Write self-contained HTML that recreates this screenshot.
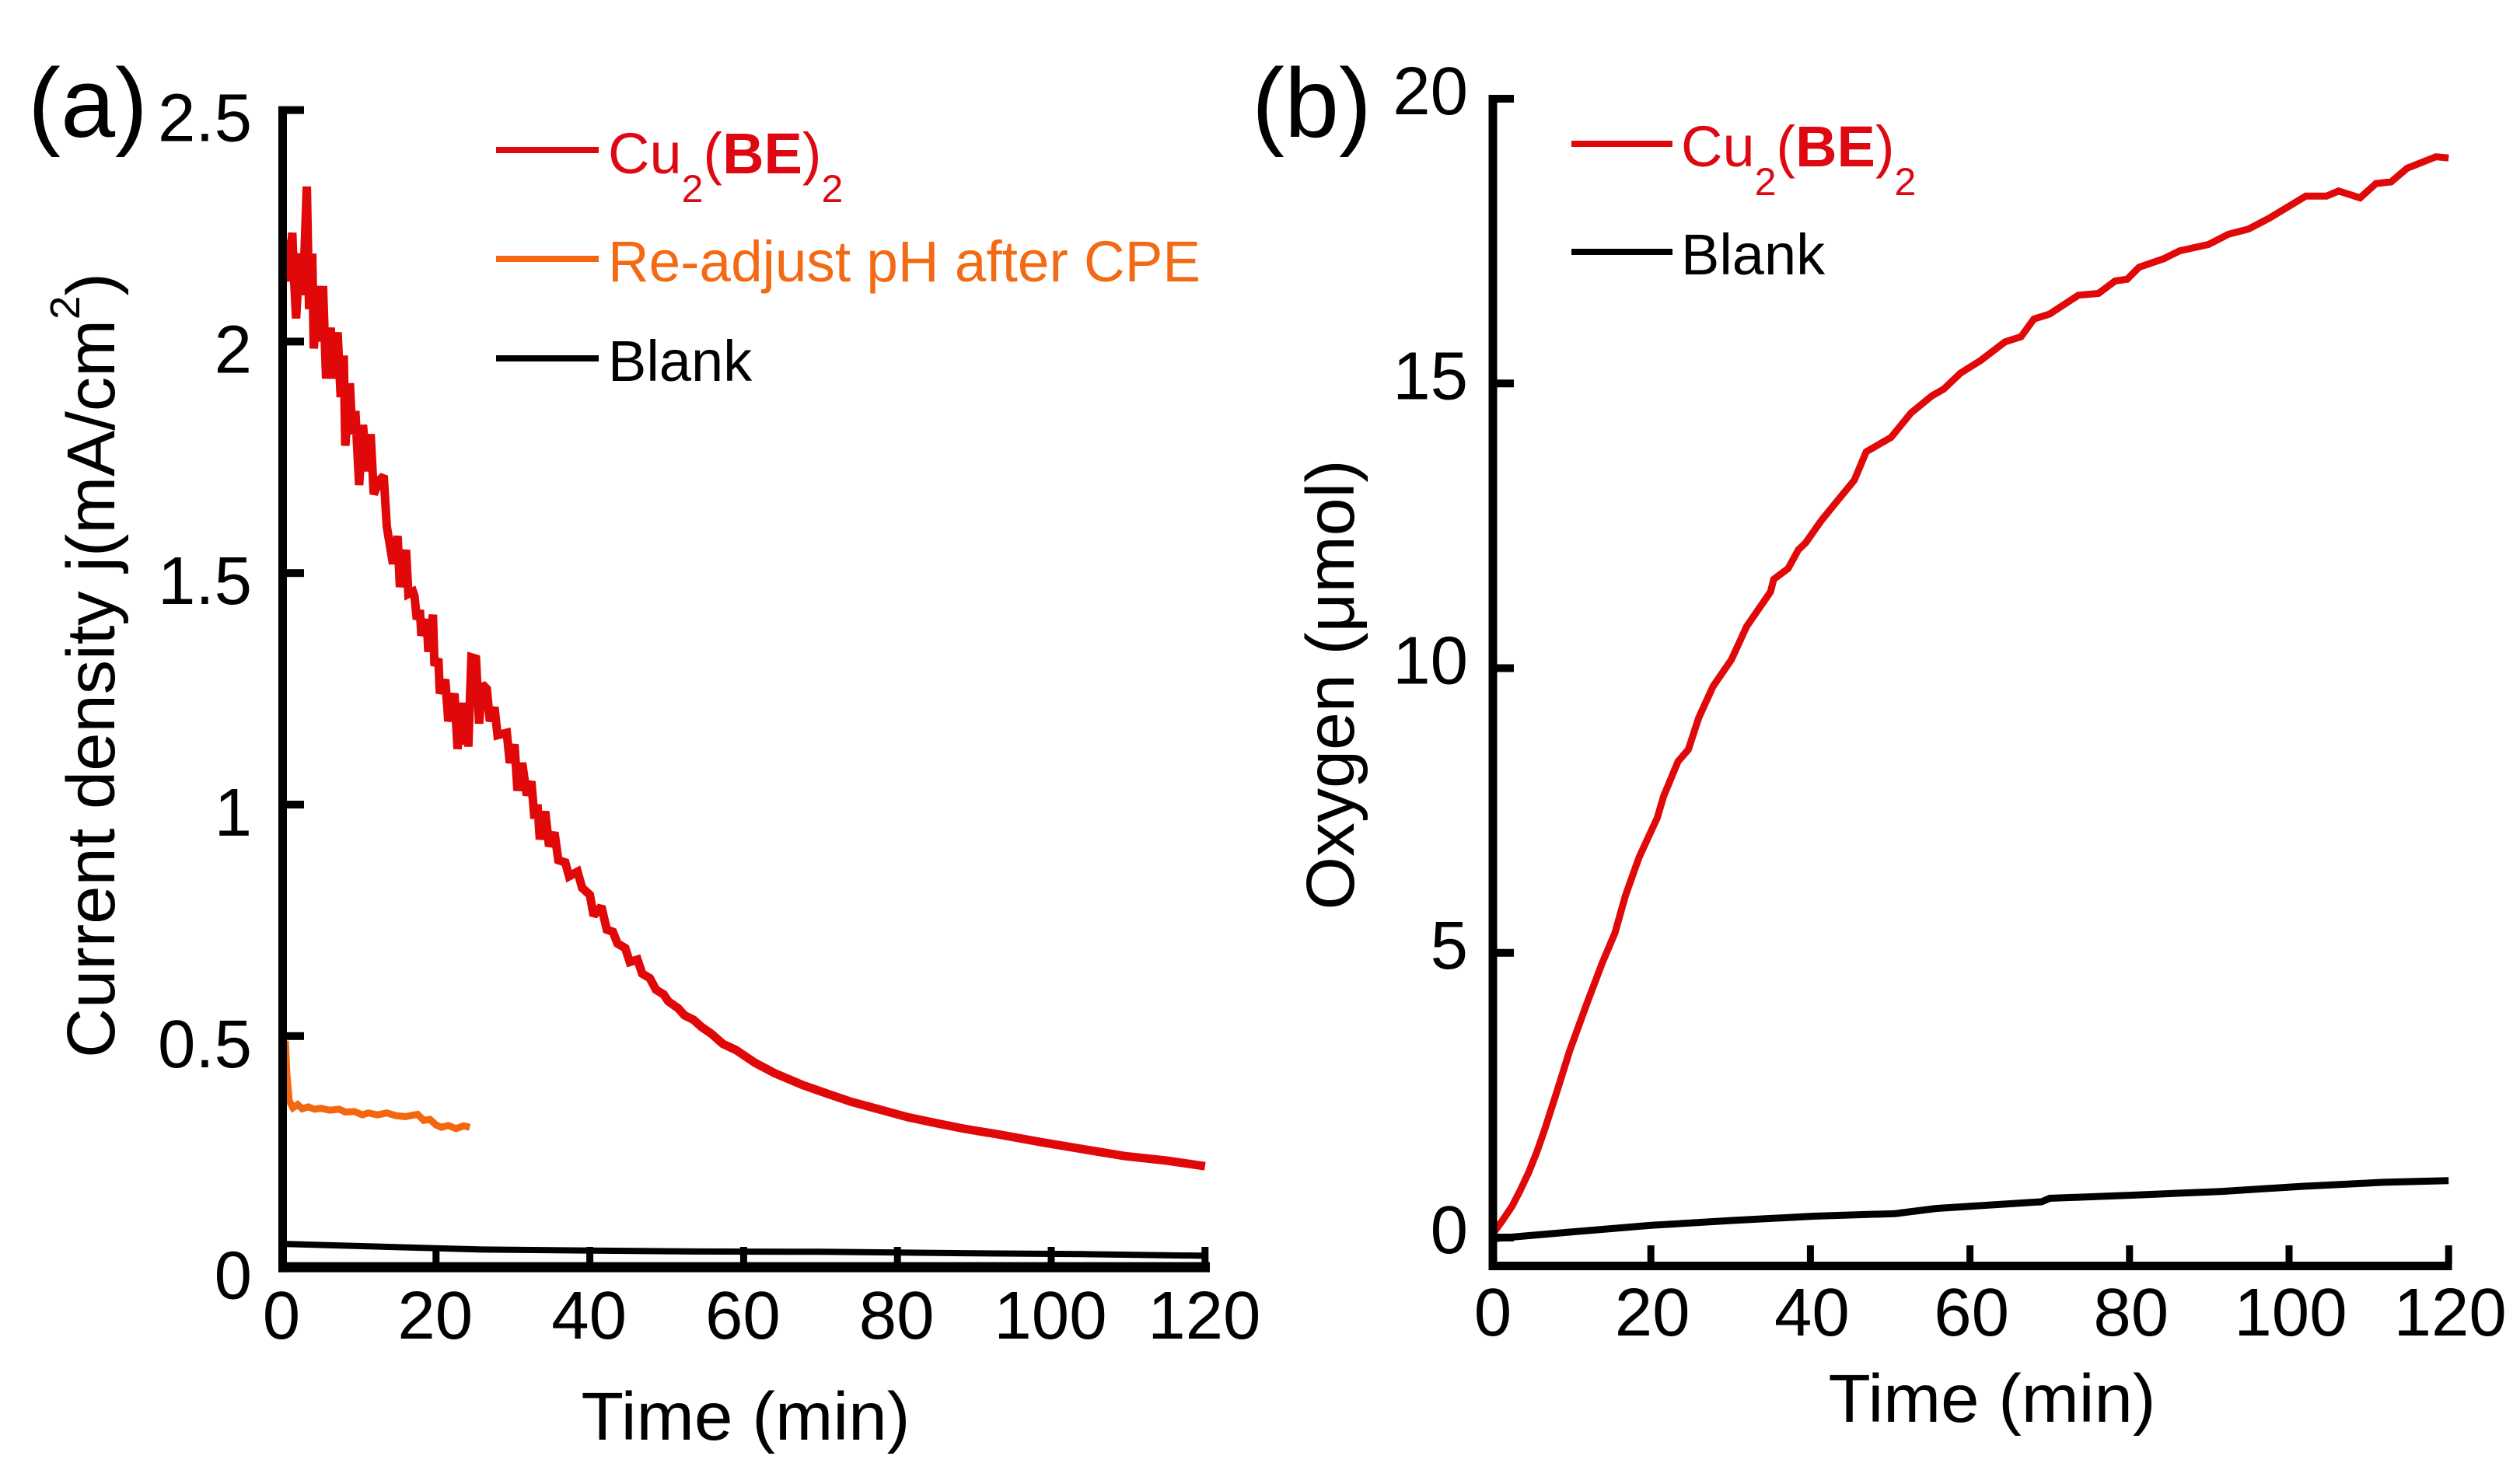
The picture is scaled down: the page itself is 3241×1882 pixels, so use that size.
<!DOCTYPE html>
<html lang="en">
<head>
<meta charset="utf-8">
<title>Current density and oxygen evolution over time</title>
<style>
html,body{margin:0;padding:0;background:#fff;width:3241px;height:1882px;overflow:hidden}
svg{display:block}
text{font-family:"Liberation Sans",sans-serif;fill:#000}
.tick{font-size:87px}
.title{font-size:87px}
.panel{font-size:126px}
.leg{font-size:74px}
.red{fill:#dd0812}
.orange{fill:#f26a14}
.sub{font-size:50px}
</style>
</head>
<body>
<svg id="figure" xmlns="http://www.w3.org/2000/svg" width="3241" height="1882" viewBox="0 0 3241 1882">
  <rect x="0" y="0" width="3241" height="1882" fill="#fff"/>

  <g id="panel-a">
    <text class="panel" x="36" y="176">(a)</text>
    <text class="title" transform="translate(147,1361) rotate(-90)" textLength="1010" lengthAdjust="spacingAndGlyphs">Current density j(mA/cm<tspan font-size="54" dy="-45">2</tspan><tspan dy="45">)</tspan></text>
    <text class="title" x="959" y="1852" text-anchor="middle" textLength="423" lengthAdjust="spacingAndGlyphs">Time (min)</text>
    <g id="a-series"></g>
    <g id="a-axes"></g>
    <g>
      <rect x="638" y="189" width="132" height="8" fill="#e00808"/>
      <text class="leg red" x="782" y="223">Cu<tspan class="sub" dy="37">2</tspan><tspan dy="-37">(</tspan><tspan font-weight="700">BE</tspan>)<tspan class="sub" dy="37">2</tspan></text>
      <rect x="638" y="329" width="132" height="8" fill="#f4660f"/>
      <text class="leg orange" x="782" y="362" textLength="762" lengthAdjust="spacingAndGlyphs">Re-adjust pH after CPE</text>
      <rect x="638" y="457" width="132" height="8" fill="#000"/>
      <text class="leg" x="782" y="490">Blank</text>
    </g>
  </g>

  <g id="panel-b">
    <text class="panel" x="1610" y="176">(b)</text>
    <text class="title" transform="translate(1741,881) rotate(-90)" text-anchor="middle" textLength="579" lengthAdjust="spacingAndGlyphs">Oxygen (μmol)</text>
    <text class="title" x="2562" y="1829" text-anchor="middle" textLength="421" lengthAdjust="spacingAndGlyphs">Time (min)</text>
    <g id="b-series"></g>
    <g id="b-axes"></g>
    <g>
      <rect x="2021" y="181" width="130" height="8" fill="#e00808"/>
      <text class="leg red" x="2162" y="214">Cu<tspan class="sub" dy="37">2</tspan><tspan dy="-37">(</tspan><tspan font-weight="700">BE</tspan>)<tspan class="sub" dy="37">2</tspan></text>
      <rect x="2021" y="320" width="130" height="8" fill="#000"/>
      <text class="leg" x="2162" y="353">Blank</text>
    </g>
  </g>
</svg>

<script>
var xTicks = [0, 20, 40, 60, 80, 100, 120];
var xTickLabels = ['0', '20', '40', '60', '80', '100', '120'];
var aYTicks = [0, 0.5, 1, 1.5, 2, 2.5];
var aYTickLabels = ['0', '0.5', '1', '1.5', '2', '2.5'];
var bYTicks = [0, 5, 10, 15, 20];
var bYTickLabels = ['0', '5', '10', '15', '20'];

var aCuTime = [0.6,0.8,1.3,1.5,1.8,2.1,2.5,2.7,3.2,3.5,3.9,4.1,4.7,5.0,5.3,5.7,6.3,6.6,7.2,7.6,8.0,8.2,8.8,9.1,9.5,10.0,10.5,11.0,11.5,11.9,12.6,13.2,13.6,14.4,15.0,15.3,16.1,16.4,17.0,17.2,17.5,17.9,18.1,18.8,19.0,19.6,19.8,20.3,20.5,21.2,21.6,22.4,22.8,23.3,23.6,24.0,24.2,24.6,25.2,25.6,26.0,26.6,27.0,27.6,28.0,29.2,29.6,30.2,30.6,31.2,31.8,32.4,32.8,33.2,33.5,34.2,34.7,35.4,35.9,36.8,37.3,38.4,39,40,40.5,41.5,42.2,43,43.6,44.6,45.2,46.2,46.8,47.8,48.6,49.6,50.2,51.5,52.3,53.5,54.5,55.8,57.3,59,61.5,64,67.7,71,74,78,81.3,85,88.6,93,99,104,109.5,115,120];
var aCuValues = [2.22,2.13,2.235,2.15,2.05,2.14,2.19,2.10,2.335,2.07,2.19,1.985,2.12,2.0,2.12,1.92,2.03,1.92,2.02,1.88,1.97,1.775,1.91,1.80,1.85,1.69,1.82,1.72,1.80,1.67,1.70,1.71,1.60,1.52,1.58,1.47,1.55,1.455,1.46,1.45,1.40,1.42,1.365,1.40,1.33,1.41,1.30,1.315,1.24,1.27,1.18,1.24,1.12,1.22,1.13,1.19,1.125,1.318,1.315,1.175,1.26,1.25,1.18,1.21,1.15,1.155,1.09,1.13,1.03,1.09,1.02,1.05,0.97,1.0,0.925,0.985,0.91,0.94,0.88,0.875,0.845,0.855,0.82,0.805,0.76,0.78,0.73,0.725,0.70,0.69,0.66,0.665,0.635,0.625,0.60,0.59,0.575,0.56,0.545,0.535,0.52,0.505,0.483,0.47,0.442,0.42,0.394,0.375,0.358,0.34,0.325,0.312,0.30,0.288,0.27,0.256,0.241,0.231,0.219];
var aOrangeTime = [0.4,0.6,0.9,1.4,2.0,2.6,3.4,4.2,5.0,6.2,7.4,8.2,9.4,10.4,11.2,12.4,13.6,14.8,16.0,17.6,18.4,19.2,20.0,20.7,21.6,22.6,23.6,24.4];
var aOrangeValues = [0.49,0.42,0.36,0.345,0.352,0.343,0.347,0.342,0.344,0.340,0.342,0.336,0.337,0.330,0.334,0.330,0.334,0.328,0.326,0.331,0.318,0.320,0.308,0.303,0.307,0.300,0.306,0.303];
var aBlankTime = [0.4,13,26,52,70,88.6,104,120];
var aBlankValues = [0.051,0.045,0.039,0.035,0.034,0.031,0.029,0.0255];

var bCuTime = [0.2,1.3,2.6,3.6,4.7,5.7,6.7,8.3,9.8,11.9,13.9,15.5,16.8,18.5,20.8,21.6,23.4,24.7,26,27.8,30.1,32,35,35.4,37.2,38.5,39.4,41.4,43.5,45.5,47,50.1,52.6,55.2,56.7,58.8,61.3,64.4,66.4,68,70,73.6,76.1,78.2,79.7,81.2,84.3,86.3,89.9,92.4,94.9,97.5,102.1,104.7,106.2,108.9,110.9,112.8,114.8,118.4,120];
var bCuValues = [0.07,0.28,0.55,0.82,1.15,1.5,1.9,2.6,3.27,4.08,4.82,5.35,6.0,6.67,7.37,7.75,8.36,8.57,9.13,9.68,10.15,10.73,11.34,11.56,11.75,12.08,12.2,12.6,12.96,13.3,13.8,14.05,14.48,14.78,14.9,15.18,15.4,15.73,15.82,16.13,16.22,16.55,16.58,16.8,16.83,17.04,17.19,17.33,17.44,17.62,17.71,17.9,18.29,18.29,18.38,18.26,18.51,18.54,18.78,18.98,18.96];
var bBlankTime = [0.2,9.8,20,30.2,40.4,50.6,55.7,69,70,81.2,91.4,101.6,111.8,120];
var bBlankValues = [-0.02,0.095,0.215,0.30,0.375,0.42,0.51,0.63,0.69,0.75,0.81,0.90,0.97,1.0];

var NS = 'http://www.w3.org/2000/svg';

function xA(t) { return 363 + t * 9.89; }
function yA(v) { return 1630.6 - v * 595.6; }
function xB(t) { return 1918 + t * 10.26; }
function yB(v) { return 1592 - v * 73.25; }

function pathFrom(times, values, xf, yf) {
  return times.map(function (t, i) {
    return (i ? 'L' : 'M') + xf(t).toFixed(1) + ' ' + yf(values[i]).toFixed(1);
  }).join(' ');
}

function addSeries(parent, name, times, values, xf, yf, color, width) {
  var el = document.createElementNS(NS, 'path');
  
  
  el.setAttribute('d', pathFrom(times, values, xf, yf));
  el.setAttribute('fill', 'none');
  el.setAttribute('stroke', color);
  el.setAttribute('stroke-width', width);
  el.setAttribute('stroke-linejoin', 'miter');
  el.setAttribute('stroke-miterlimit', '2');
  parent.appendChild(el);
}

function addRect(parent, name, x, y, w, h) {
  var el = document.createElementNS(NS, 'rect');
  
  
  el.setAttribute('x', x);
  el.setAttribute('y', y);
  el.setAttribute('width', w);
  el.setAttribute('height', h);
  el.setAttribute('fill', '#000');
  parent.appendChild(el);
}

function addLabel(parent, name, x, y, anchor, str) {
  var el = document.createElementNS(NS, 'text');
  
  
  el.setAttribute('class', 'tick');
  el.setAttribute('x', x);
  el.setAttribute('y', y);
  el.setAttribute('text-anchor', anchor);
  el.textContent = str;
  parent.appendChild(el);
}

var aSeries = document.getElementById('a-series');
var aAxes = document.getElementById('a-axes');
var bSeries = document.getElementById('b-series');
var bAxes = document.getElementById('b-axes');

addSeries(aSeries, 'series-blank-a', aBlankTime, aBlankValues, xA, yA, '#000', 8);
addSeries(aSeries, 'series-readjust-ph', aOrangeTime, aOrangeValues, xA, yA, '#f4660f', 9);
addSeries(aSeries, 'series-cu2be2-a', aCuTime, aCuValues, xA, yA, '#e00808', 11);
addSeries(bSeries, 'series-blank-b', bBlankTime, bBlankValues, xB, yB, '#000', 9);
addSeries(bSeries, 'series-cu2be2-b', bCuTime, bCuValues, xB, yB, '#e00808', 9);

addRect(aAxes, 'y-axis-line-a', 358, yA(2.5) - 5, 11, yA(0) - yA(2.5) + 11);
addRect(aAxes, 'x-axis-line-a', 358, yA(0) - 7, 1198, 13);
aYTicks.forEach(function (v, i) {
  addRect(aAxes, 'y-tick-a', 364, yA(v) - 5, 27, 10);
  addLabel(aAxes, 'y-tick-label-a', 324, yA(v) + 40, 'end', aYTickLabels[i]);
});
xTicks.forEach(function (t, i) {
  if (t > 0) addRect(aAxes, 'x-tick-a', xA(t) - 4.5, 1604, 9, 24);
  addLabel(aAxes, 'x-tick-label-a', xA(t) - 1, 1722, 'middle', xTickLabels[i]);
});

addRect(bAxes, 'y-axis-line-b', 1914.5, yB(20) - 5, 11, 1634 - yB(20) + 5);
addRect(bAxes, 'x-axis-line-b', 1914.5, 1623, 1239, 11);
bYTicks.forEach(function (v, i) {
  addRect(bAxes, 'y-tick-b', 1920, yB(v) - 5, 27, 10);
  addLabel(bAxes, 'y-tick-label-b', 1888, yB(v) + 20, 'end', bYTickLabels[i]);
});
xTicks.forEach(function (t, i) {
  if (t > 0) addRect(bAxes, 'x-tick-b', xB(t) - 4.5, 1602, 9, 24);
  addLabel(bAxes, 'x-tick-label-b', xB(t) + 2, 1718, 'middle', xTickLabels[i]);
});
</script>
</body>
</html>
